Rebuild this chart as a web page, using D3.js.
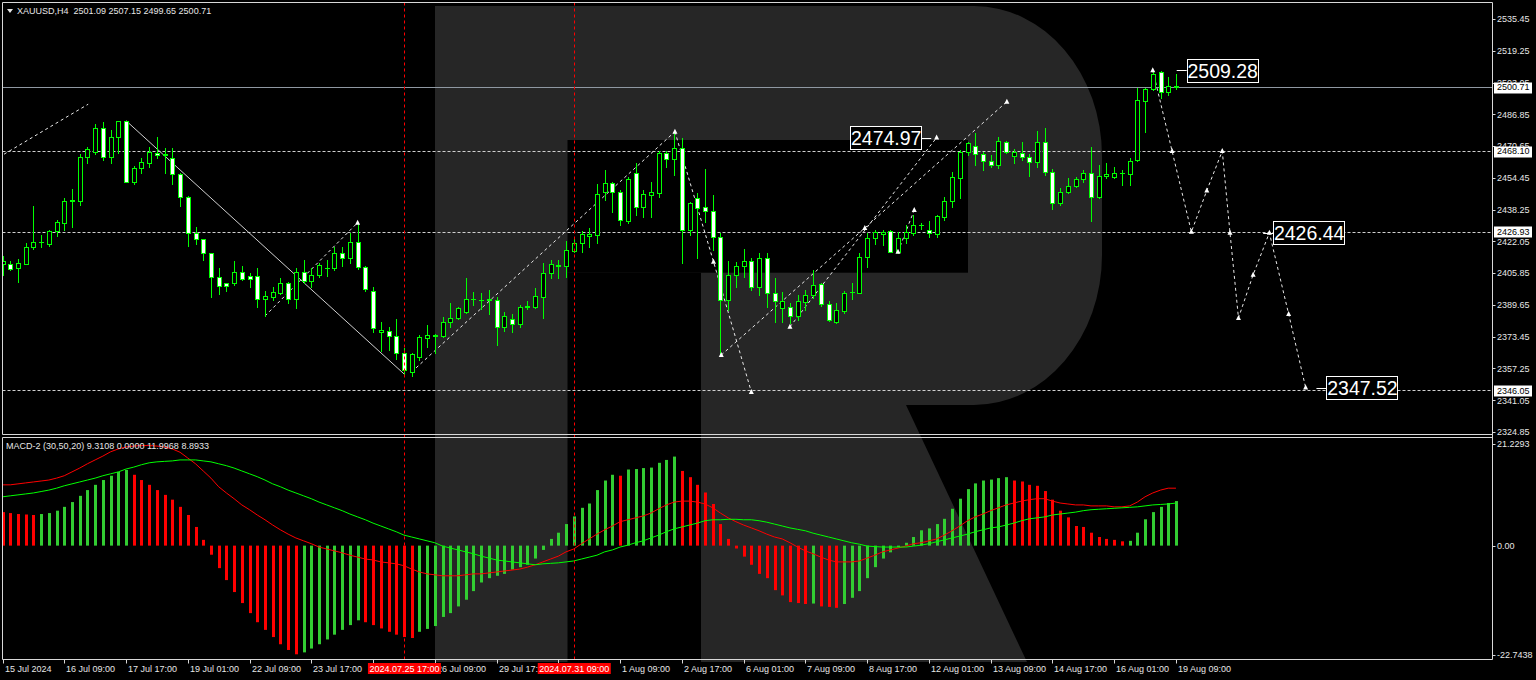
<!DOCTYPE html>
<html><head><meta charset="utf-8">
<script src="https://cdn.jsdelivr.net/npm/d3@7"></script>
<style>html,body{margin:0;padding:0;background:#000;}svg{display:block;}text{white-space:pre;}</style>
</head><body>
<svg id="c" width="1536" height="680"></svg>
<script>
// ---------------- DATA ----------------
const open=[2410.5,2410.3,2408.3,2410.7,2419.0,2421.5,2420.8,2427.5,2431.6,2442.8,2442.6,2464.9,2467.8,2479.7,2465.2,2475.1,2483.2,2452.5,2459.3,2462.2,2467.3,2466.4,2464.7,2456.4,2444.8,2426.1,2423.2,2415.9,2403.7,2400.6,2400.6,2406.2,2404.2,2404.2,2392.5,2393.8,2395.9,2400.9,2392.5,2406.6,2401.7,2404.7,2408.3,2408.3,2416.2,2413.4,2421.5,2409.1,2396.9,2376.0,2376.3,2373.8,2364.9,2355.6,2362.9,2372.9,2374.4,2373.8,2381.1,2383.1,2386.2,2392.5,2392.3,2392.0,2392.0,2378.2,2382.6,2379.7,2388.8,2388.7,2393.5,2405.7,2409.5,2409.5,2417.3,2421.0,2424.6,2425.4,2447.4,2451.6,2447.0,2432.6,2456.7,2439.4,2445.7,2446.9,2466.9,2463.9,2469.8,2427.8,2444.0,2439.4,2437.7,2424.4,2392.4,2404.9,2409.5,2412.2,2398.9,2413.4,2395.5,2387.9,2388.4,2384.0,2391.3,2394.7,2400.1,2390.1,2381.1,2386.5,2396.0,2395.9,2414.2,2423.6,2425.8,2427.3,2416.8,2423.6,2426.5,2430.3,2427.8,2425.8,2434.6,2442.6,2454.5,2467.4,2470.7,2466.6,2463.0,2461.0,2472.5,2465.6,2466.9,2465.2,2462.4,2472.5,2457.6,2441.4,2447.4,2450.4,2453.7,2456.7,2444.5,2455.4,2455.0,2456.7,2456.4,2463.5,2493.8,2499.6,2508.6,2498.0,2501.09];
const high=[2414.7,2412.0,2412.9,2421.0,2440.1,2425.3,2427.8,2432.9,2444.0,2448.7,2466.4,2470.3,2481.9,2482.7,2479.1,2483.6,2483.6,2460.5,2464.4,2470.0,2475.4,2469.5,2469.9,2456.7,2445.2,2429.5,2423.4,2416.2,2408.4,2401.0,2412.2,2409.4,2406.0,2408.3,2396.7,2398.9,2403.2,2401.5,2408.3,2412.5,2408.3,2410.8,2412.5,2419.3,2419.0,2426.5,2431.6,2409.5,2398.7,2381.1,2378.5,2382.4,2367.8,2364.9,2374.3,2379.4,2374.6,2383.6,2390.8,2388.7,2403.5,2396.4,2395.5,2397.2,2393.8,2385.8,2384.8,2389.4,2391.6,2398.1,2410.8,2412.5,2412.5,2422.2,2423.9,2427.3,2429.0,2451.1,2458.4,2452.5,2448.2,2455.0,2462.2,2448.2,2452.5,2468.1,2468.1,2477.9,2474.6,2442.3,2446.5,2458.9,2445.7,2426.1,2412.2,2411.7,2418.0,2413.4,2415.9,2415.9,2403.2,2396.4,2390.4,2394.7,2397.2,2407.4,2401.0,2391.8,2390.4,2396.7,2401.0,2415.9,2426.1,2427.8,2427.8,2427.8,2427.0,2430.4,2435.5,2431.2,2432.4,2435.5,2444.8,2457.6,2468.6,2472.9,2477.1,2467.8,2466.1,2475.4,2473.4,2469.0,2472.5,2466.4,2478.5,2480.0,2458.8,2449.1,2454.2,2454.7,2458.4,2470.3,2461.0,2461.8,2459.8,2458.4,2464.4,2500.4,2500.4,2509.28,2509.0,2506.0,2507.15];
const low=[2404.8,2407.4,2401.1,2410.5,2418.0,2419.3,2419.7,2424.9,2427.8,2429.2,2440.6,2462.2,2466.4,2463.5,2461.8,2466.9,2452.3,2451.5,2456.7,2460.1,2464.7,2457.0,2451.3,2440.1,2419.8,2420.7,2412.5,2393.5,2395.2,2396.9,2399.7,2402.3,2398.9,2388.4,2384.0,2392.1,2395.2,2390.4,2387.9,2400.6,2398.9,2403.7,2404.5,2407.4,2409.4,2410.8,2407.8,2396.7,2375.8,2366.3,2366.6,2361.9,2354.5,2353.5,2361.5,2368.3,2364.9,2373.4,2378.5,2382.3,2385.7,2389.6,2387.4,2384.8,2369.2,2376.5,2376.0,2378.2,2387.7,2387.9,2383.1,2403.2,2403.5,2404.0,2416.8,2416.8,2419.0,2421.4,2443.1,2437.2,2430.4,2431.2,2435.5,2434.6,2434.6,2444.8,2460.1,2455.9,2410.8,2425.3,2413.4,2432.1,2417.6,2364.9,2387.0,2398.9,2404.0,2397.2,2394.7,2388.7,2381.1,2381.1,2380.2,2381.9,2387.0,2393.0,2389.1,2381.6,2380.2,2385.7,2392.5,2395.5,2409.1,2420.7,2420.2,2416.5,2415.9,2421.0,2425.3,2428.2,2424.4,2424.4,2432.9,2439.7,2444.0,2466.1,2461.0,2458.4,2460.1,2459.3,2466.9,2462.2,2463.5,2455.4,2460.1,2455.9,2438.4,2440.6,2446.5,2449.6,2452.5,2432.4,2444.0,2454.2,2454.2,2450.8,2450.8,2463.0,2477.6,2499.2,2495.0,2496.7,2499.65];
const close=[2412.0,2407.8,2411.0,2419.0,2421.5,2421.6,2427.5,2431.9,2442.8,2443.0,2464.9,2469.0,2479.7,2465.2,2475.1,2483.2,2452.5,2459.6,2462.4,2467.6,2465.9,2466.0,2456.4,2444.8,2426.1,2423.4,2415.9,2403.7,2399.4,2399.4,2406.2,2402.8,2402.8,2392.5,2394.0,2396.0,2400.9,2392.5,2406.6,2401.8,2404.7,2410.0,2408.4,2415.9,2413.4,2421.5,2409.1,2398.0,2377.8,2376.8,2373.8,2364.9,2356.5,2364.4,2373.4,2374.3,2374.0,2381.1,2383.1,2388.2,2392.5,2392.6,2392.1,2392.5,2378.2,2384.1,2379.9,2388.4,2389.0,2394.1,2405.7,2410.3,2409.8,2417.6,2421.0,2425.8,2425.8,2446.2,2451.6,2447.0,2432.9,2453.7,2439.4,2446.2,2447.0,2466.9,2463.9,2469.8,2427.8,2441.4,2438.9,2437.7,2424.4,2392.4,2404.9,2409.5,2412.2,2398.6,2413.4,2395.5,2391.8,2391.8,2383.9,2391.6,2394.7,2399.8,2389.9,2381.9,2387.0,2395.9,2396.3,2414.2,2423.6,2427.0,2427.0,2416.8,2423.6,2426.6,2430.4,2430.4,2426.1,2435.0,2442.6,2454.7,2467.4,2472.0,2466.6,2463.0,2461.0,2473.2,2467.8,2467.8,2465.2,2462.4,2472.5,2457.6,2441.8,2447.4,2450.4,2453.7,2456.7,2444.5,2455.4,2456.4,2457.1,2457.1,2463.2,2494.1,2499.7,2507.4,2498.4,2501.3,2500.71];

const macdHist=[7.0,6.8,6.6,6.5,6.4,6.6,6.8,7.3,8.1,9.1,10.4,11.6,12.7,13.7,14.6,15.4,15.8,14.8,13.7,12.7,11.6,10.6,9.6,8.1,6.4,3.9,1.2,-1.9,-4.7,-7.2,-9.7,-12.0,-14.1,-16.0,-17.6,-19.1,-20.6,-21.8,-22.7,-22.3,-21.5,-20.6,-19.6,-18.6,-17.6,-16.6,-15.6,-16.0,-16.6,-17.3,-18.0,-18.6,-19.1,-19.3,-18.0,-17.4,-16.8,-14.9,-14.1,-12.7,-11.3,-9.5,-7.7,-6.8,-6.3,-5.9,-5.0,-4.5,-4.0,-2.7,-0.9,1.4,2.7,4.5,6.1,7.9,8.8,11.6,13.6,14.8,14.6,15.9,16.0,16.2,16.3,17.3,17.9,18.6,15.6,14.3,12.7,11.1,8.7,4.5,1.4,-0.6,-2.3,-4.0,-5.9,-6.8,-9.3,-10.4,-11.8,-12.0,-12.2,-12.1,-12.7,-12.8,-13.0,-12.2,-10.9,-9.5,-6.8,-4.5,-2.7,-1.4,-0.3,0.6,1.8,3.2,3.6,4.5,5.6,7.7,9.8,11.8,13.0,13.6,13.8,14.1,14.3,13.6,13.4,12.7,12.5,11.4,9.6,7.3,5.9,4.1,3.9,2.7,1.8,1.4,1.2,0.9,1.0,2.7,5.5,7.0,8.1,8.9,9.3108];
const histUp=[0,0,0,0,0,1,1,1,1,1,1,1,1,1,1,1,1,0,0,0,0,0,0,0,0,0,0,0,0,0,0,0,0,0,0,0,0,0,0,1,1,1,1,1,1,1,1,0,0,0,0,0,0,0,1,1,1,1,1,1,1,1,1,1,1,1,1,1,1,1,1,1,1,1,1,1,1,1,1,1,0,1,1,1,1,1,1,1,0,0,0,0,0,0,0,0,0,0,0,0,0,0,0,0,0,1,0,0,0,1,1,1,1,1,1,1,1,1,1,1,1,1,1,1,1,1,1,1,1,1,1,0,0,0,0,0,0,0,0,0,0,0,0,0,0,0,1,1,1,1,1,1,1];
const macdMain=[12.7,12.7,12.9,13.1,13.3,13.5,13.7,14.1,14.6,15.4,16.2,17.1,17.9,18.7,19.6,20.2,20.6,20.8,20.9,20.9,20.8,20.6,20.2,19.5,18.3,17.1,15.6,14.1,12.3,11.0,9.8,8.5,7.5,6.4,5.4,4.3,3.3,2.4,1.6,1.0,0.4,-0.3,-0.7,-1.1,-1.5,-2.0,-2.4,-2.8,-3.0,-3.4,-3.6,-3.8,-4.2,-4.9,-5.5,-5.9,-6.1,-6.3,-6.3,-6.3,-6.1,-5.9,-5.9,-5.7,-5.5,-5.3,-5.1,-4.9,-4.5,-4.0,-3.4,-2.8,-2.2,-1.3,-0.7,0.4,1.4,2.4,3.3,4.1,5.0,5.4,5.8,6.2,6.8,7.7,8.5,9.1,9.3,9.3,9.1,8.7,7.9,6.8,5.8,5.0,4.3,3.7,3.1,2.4,1.8,1.4,0.6,-0.3,-1.1,-1.7,-2.4,-3.0,-3.4,-3.4,-3.4,-3.2,-2.6,-2.0,-1.3,-0.9,-0.5,-0.1,0.4,0.6,1.0,1.4,2.2,3.1,4.1,5.2,6.0,6.6,7.3,7.9,8.5,8.9,9.3,9.6,9.8,9.8,9.3,8.9,8.7,8.5,8.5,8.3,8.3,8.3,8.1,8.1,8.3,9.1,10.2,11.0,11.6,12.0,11.9968];
const macdSignal=[10.2,10.4,10.6,10.8,11.0,11.3,11.6,12.0,12.5,12.9,13.3,13.7,14.1,14.6,15.0,15.4,16.0,16.4,16.9,17.3,17.5,17.6,17.7,17.9,17.9,17.9,17.7,17.5,17.1,16.7,16.2,15.6,15.0,14.4,13.7,12.9,12.3,11.6,11.0,10.4,9.8,9.1,8.5,7.9,7.3,6.6,6.0,5.4,4.7,4.1,3.5,2.9,2.2,1.8,1.4,1.0,0.6,-0.1,-0.5,-0.9,-1.3,-1.7,-2.2,-2.6,-3.0,-3.2,-3.4,-3.6,-3.8,-4.0,-3.8,-3.7,-3.6,-3.4,-3.2,-2.8,-2.4,-2.0,-1.3,-0.9,-0.3,0.1,0.6,1.0,1.6,2.2,2.9,3.5,3.9,4.3,4.7,5.2,5.4,5.4,5.5,5.5,5.4,5.4,5.2,4.9,4.5,4.1,3.7,3.4,3.1,2.6,2.2,1.8,1.4,1.0,0.6,0.3,-0.1,-0.2,-0.3,-0.3,-0.3,-0.3,-0.1,0.1,0.4,0.8,1.2,1.6,2.0,2.4,2.9,3.3,3.7,3.9,4.3,4.7,5.2,5.6,5.8,6.0,6.4,6.6,6.8,7.0,7.3,7.5,7.6,7.7,7.8,7.9,8.0,8.1,8.3,8.5,8.6,8.7,8.8933];

const xTickIdx=[0,8,16,24,32,40,48,56,64,72,80,88,96,104,112,120,128,136,144,152];
const xTickLabels=["15 Jul 2024","16 Jul 09:00","17 Jul 17:00","19 Jul 01:00","22 Jul 09:00","23 Jul 17:00","25 Jul 01:00","26 Jul 09:00","29 Jul 17:00","31 Jul 01:00","1 Aug 09:00","2 Aug 17:00","6 Aug 01:00","7 Aug 09:00","8 Aug 17:00","12 Aug 01:00","13 Aug 09:00","14 Aug 17:00","16 Aug 01:00","19 Aug 09:00"];
const priceTicks=[2535.45,2519.25,2503.05,2486.85,2470.65,2454.45,2438.25,2422.05,2405.85,2389.65,2373.45,2357.25,2341.05,2324.85];
const macdTicks=[21.2293,0,-22.7438];
const macdTickLabels=["21.2293","0.00","-22.7438"];
const levelPrices=[2468.10,2426.93,2346.05];
const bidPrice=2500.71;
const markIdx=[52,74];
const markLabels=["2024.07.25 17:00","2024.07.31 09:00"];
const solidTrend=[[16,2483.6],[52,2354.5]];
const dashTrends=[
  [[0.2,2466.5],[11.1,2492.0]],
  [[34,2384.0],[46,2431.6]],
  [[53,2355.5],[87.1,2478.0]],
  [[87.1,2478.0],[92.1,2411.7],[97.0,2345.3]],
  [[93.1,2364.1],[111.7,2428.9],[130.1,2493.3]],
  [[102.0,2378.5],[121.0,2474.97]],
  [[116.0,2416.8],[118.1,2438.0]]
];
const forecast=[[149,2509.28],[151.5,2468.1],[154,2426.9],[156,2448.0],[158,2468.1],[159,2426.5],[160.1,2383.0],[162,2405.0],[164.1,2426.44],[166.6,2385.0],[168.8,2347.52]];
const markerPts=[[46,2431.6],[87.1,2478.0],[92.1,2411.7],[97.0,2345.3],[93.1,2364.1],[111.7,2428.9],[130.1,2493.3],[102.0,2378.5],[121.0,2474.97],[116.0,2416.8],[118.1,2438.0]];
const rightLabels=[[152.1,2509.28],[163.3,2426.44],[170.2,2347.52]];
const leftLabels=[[120.3,2474.97]];
const headerText="XAUUSD,H4  2501.09 2507.15 2499.65 2500.71";
const macdText="MACD-2 (30,50,20) 9.3108 0.0000 11.9968 8.8933";

// ---------------- LAYOUT ----------------
const svg=d3.select("#c");
const L=2.5,R=1492.5,mainT=2.5,mainB=434.5,macdT=437.5,macdB=659.5;
const x=d3.scaleLinear().domain([0,152]).range([2.5,2.5+152*7.72]);
const y=d3.scaleLinear().domain([2324.85,2535.45]).range([432,19]);
const ym=d3.scaleLinear().domain([-22.7438,21.2293]).range([654.5,444]);
const FG="#e6e6e6", FONT="'Liberation Sans', Arial, sans-serif";

svg.append("rect").attr("width",1536).attr("height",680).attr("fill","#000");

// watermark "R"
svg.append("path").attr("fill","#262626")
  .attr("d","M435,6 H974 A128,150 0 0 1 1102,156 V255 A128,150 0 0 1 974,405 H906 L1027,662 H701 V272.7 H567.5 V662 H435 Z");
svg.append("rect").attr("x",567.5).attr("y",140).attr("width",400.5).attr("height",132.7).attr("fill","#000");

const defs=svg.append("defs");
defs.append("clipPath").attr("id","cm").append("rect").attr("x",L).attr("y",mainT).attr("width",R-L).attr("height",mainB-mainT);
defs.append("clipPath").attr("id","cd").append("rect").attr("x",L).attr("y",macdT).attr("width",R-L).attr("height",macdB-macdT);

const gm=svg.append("g").attr("clip-path","url(#cm)");
const gd=svg.append("g").attr("clip-path","url(#cd)");

// level lines
levelPrices.forEach(p=>{
  const yy=Math.round(y(p))+0.5;
  gm.append("line").attr("x1",L).attr("x2",R).attr("y1",yy).attr("y2",yy)
    .attr("stroke","#d0d0d0").attr("stroke-dasharray","3,2");
});
{const yy=Math.round(y(bidPrice))+0.5;
 gm.append("line").attr("x1",L).attr("x2",R).attr("y1",yy).attr("y2",yy).attr("stroke","#8f98a2");}

// vertical red dotted lines
markIdx.forEach(i=>{
  const xx=Math.round(x(i))+0.5;
  svg.append("line").attr("x1",xx).attr("x2",xx).attr("y1",mainT).attr("y2",macdB)
    .attr("stroke","#ff0000").attr("stroke-dasharray","3,3");
});

// trend lines
const ln=d3.line().x(d=>x(d[0])).y(d=>y(d[1]));
gm.append("path").attr("d",ln(solidTrend)).attr("fill","none").attr("stroke","#cfcfcf").attr("stroke-width",1);
dashTrends.forEach(t=>gm.append("path").attr("d",ln(t)).attr("fill","none").attr("stroke","#e8e8e8").attr("stroke-dasharray","3,3"));
gm.append("path").attr("d",ln(forecast)).attr("fill","none").attr("stroke","#e8e8e8").attr("stroke-dasharray","3,3");

// candles
const idx=d3.range(open.length);
idx.forEach(i=>{
  const X=Math.round(x(i))+0.5;
  gm.append("line").attr("x1",X).attr("x2",X).attr("y1",Math.round(y(high[i]))).attr("y2",Math.round(y(low[i]))+1)
    .attr("stroke","#00ff00");
  const t=Math.round(y(Math.max(open[i],close[i])))+0.5, b=Math.round(y(Math.min(open[i],close[i])))+0.5;
  const bear=close[i]<open[i];
  if(b-t<1){
    gm.append("line").attr("x1",X-2.5).attr("x2",X+2.5).attr("y1",t).attr("y2",t).attr("stroke","#00ff00");
  } else {
    gm.append("rect").attr("x",X-2).attr("y",t).attr("width",4).attr("height",b-t)
      .attr("fill",bear?"#ffffff":"#000000").attr("stroke","#00ff00");
  }
});

// markers
function marker(g,i,p){
  const cx=x(i), cy=y(p);
  g.append("path").attr("d",`M${cx-2.5},${cy+2} L${cx},${cy-3} L${cx+2.5},${cy+2} Z`).attr("fill","#ffffff");
}
markerPts.forEach(d=>marker(gm,d[0],d[1]));
forecast.forEach(d=>marker(gm,d[0],d[1]));

// price labels
function bigLabel(i,p,side){
  const ax=x(i), cy=y(p), w=71, h=23;
  const bx= side==="right"? ax+10 : ax-10-w;
  gm.append("line").attr("x1",ax).attr("x2",side==="right"?ax+10:ax-10).attr("y1",Math.round(cy)+0.5).attr("y2",Math.round(cy)+0.5).attr("stroke","#ffffff");
  gm.append("rect").attr("x",Math.round(bx)+0.5).attr("y",Math.round(cy-h/2)+0.5).attr("width",w).attr("height",h)
    .attr("fill","#000").attr("stroke","#ffffff");
  gm.append("text").attr("x",bx+w/2+0.5).attr("y",cy+7.5).attr("text-anchor","middle")
    .attr("font-family",FONT).attr("font-size",19.5).attr("fill","#ffffff").text(p.toFixed(2));
}
rightLabels.forEach(d=>bigLabel(d[0],d[1],"right"));
leftLabels.forEach(d=>bigLabel(d[0],d[1],"left"));

// MACD
const z0=ym(0);
idx.forEach(i=>{
  const X=Math.round(x(i));
  const yv=ym(macdHist[i]);
  gd.append("rect").attr("x",X-1).attr("width",3)
    .attr("y",Math.min(yv,z0)).attr("height",Math.max(1,Math.abs(yv-z0)))
    .attr("fill",histUp[i]?"#32cd32":"#ff0000");
});
const lm=d3.line().x((d,i)=>x(i)).y(d=>ym(d));
gd.append("path").attr("d",lm(macdMain)).attr("fill","none").attr("stroke","#ff0000").attr("stroke-width",1);
gd.append("path").attr("d",lm(macdSignal)).attr("fill","none").attr("stroke","#00ff00").attr("stroke-width",1);

// frames
const fr="#d8d8d8";
[[L,mainT,R,mainT],[L,mainB,R,mainB],[L,macdT,R,macdT],[L,macdB,R,macdB],[L,mainT,L,mainB],[L,macdT,L,macdB],[R,mainT,R,macdB]]
 .forEach(s=>svg.append("line").attr("x1",s[0]).attr("y1",s[1]).attr("x2",s[2]).attr("y2",s[3]).attr("stroke",fr));

// right axis: price
priceTicks.forEach(p=>{
  const yy=Math.round(y(p))+0.5;
  svg.append("line").attr("x1",R).attr("x2",R+3).attr("y1",yy).attr("y2",yy).attr("stroke",fr);
  svg.append("text").attr("x",R+4.5).attr("y",y(p)+3.3).attr("font-family",FONT).attr("font-size",9).attr("fill",FG).text(p.toFixed(2));
});
function axisBox(p,txt){
  const cy=y(p);
  svg.append("rect").attr("x",R+1.5).attr("y",Math.round(cy-5.5)+0.5).attr("width",38).attr("height",11).attr("fill","#ffffff");
  svg.append("text").attr("x",R+4.5).attr("y",cy+3.3).attr("font-family",FONT).attr("font-size",9).attr("fill","#000").text(txt);
}
axisBox(bidPrice,bidPrice.toFixed(2));
levelPrices.forEach(p=>axisBox(p,p.toFixed(2)));

// right axis: macd
macdTicks.forEach((v,k)=>{
  const yy=Math.round(ym(v))+0.5;
  svg.append("line").attr("x1",R).attr("x2",R+3).attr("y1",yy).attr("y2",yy).attr("stroke",fr);
  svg.append("text").attr("x",R+4.5).attr("y",ym(v)+3.3).attr("font-family",FONT).attr("font-size",9).attr("fill",FG).text(macdTickLabels[k]);
});

// bottom axis (labels fully hidden under a red date box are not drawn)
const markX=markIdx.map(i=>x(i));
xTickIdx.forEach((ti,k)=>{
  const xx=Math.round(x(ti))+0.5;
  svg.append("line").attr("x1",xx).attr("x2",xx).attr("y1",macdB).attr("y2",macdB+4).attr("stroke",fr);
  const hidden=markX.some(mx=>xx>mx-37 && xx+50<mx+37);
  if(!hidden){
    svg.append("text").attr("x",xx+1.5).attr("y",671.5).attr("font-family",FONT).attr("font-size",9).attr("fill",FG).text(xTickLabels[k]);
  }
});
markIdx.forEach((mi,k)=>{
  const xx=x(mi);
  svg.append("rect").attr("x",xx-36).attr("y",663).attr("width",73).attr("height",11).attr("fill","#ff0000");
  svg.append("text").attr("x",xx+0.5).attr("y",671.5).attr("text-anchor","middle").attr("font-family",FONT).attr("font-size",9).attr("fill","#ffffff").text(markLabels[k]);
});

// headers
svg.append("path").attr("d","M7,9 L13,9 L10,13 Z").attr("fill",FG);
svg.append("text").attr("x",17).attr("y",14).attr("font-family",FONT).attr("font-size",9).attr("fill",FG).text(headerText);
svg.append("text").attr("x",6).attr("y",449).attr("font-family",FONT).attr("font-size",9).attr("fill",FG)
  .attr("textLength",203).attr("lengthAdjust","spacing").text(macdText);
</script>
</body></html>
